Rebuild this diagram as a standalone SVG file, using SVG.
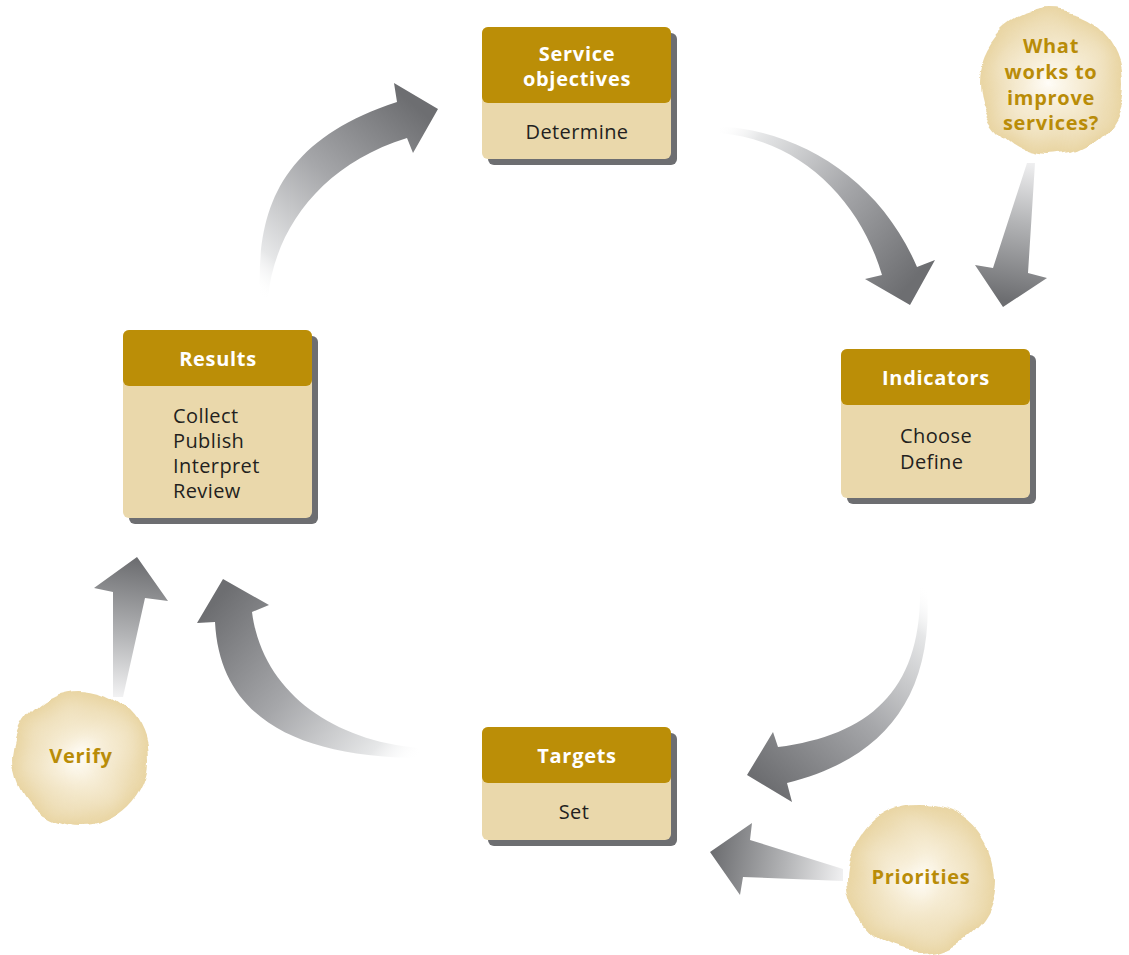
<svg xmlns="http://www.w3.org/2000/svg" width="1129" height="955" viewBox="0 0 1129 955">
<defs>
<style>
.shadow{fill:#6d6e71}
.body{fill:#ead8ab}
.head{fill:#bb8e07}
.ht{font-family:"Open Sans","Liberation Sans",sans-serif;font-weight:700;font-size:20px;fill:#ffffff;letter-spacing:0.7px;text-anchor:middle}
.bt{font-family:"Open Sans","Liberation Sans",sans-serif;font-size:20px;fill:#231f20;letter-spacing:0.4px}
.btc{text-anchor:middle}
.blt{font-family:"Open Sans","Liberation Sans",sans-serif;font-weight:700;font-size:20px;fill:#b98c08;letter-spacing:0.7px;text-anchor:middle}
.blob{fill:url(#blobGrad);filter:url(#rough)}
</style>
<radialGradient id="blobGrad" cx="0.5" cy="0.5" r="0.5">
<stop offset="0" stop-color="#fffdf8"/>
<stop offset="0.35" stop-color="#f7eed8"/>
<stop offset="0.75" stop-color="#efe0bb"/>
<stop offset="1" stop-color="#e9d5a3"/>
</radialGradient>
<filter id="rough" x="-15%" y="-15%" width="130%" height="130%">
<feTurbulence type="fractalNoise" baseFrequency="0.028" numOctaves="1" seed="7"/>
<feDisplacementMap in="SourceGraphic" scale="18" xChannelSelector="R" yChannelSelector="G"/>
</filter>
<linearGradient id="ag">
<stop offset="0" stop-color="#ffffff" stop-opacity="0"/>
<stop offset="0.15" stop-color="#e6e7e8"/>
<stop offset="0.55" stop-color="#a6a7aa"/>
<stop offset="1" stop-color="#6d6e71"/>
</linearGradient>
<linearGradient id="sg">
<stop offset="0" stop-color="#f2f2f3"/>
<stop offset="0.45" stop-color="#b3b4b6"/>
<stop offset="1" stop-color="#6d6e71"/>
</linearGradient>
<linearGradient id="g1" href="#ag" gradientUnits="userSpaceOnUse" x1="262" y1="297" x2="420" y2="110"/>
<linearGradient id="g2" href="#ag" gradientUnits="userSpaceOnUse" x1="717" y1="128" x2="905" y2="290"/>
<linearGradient id="g3" href="#ag" gradientUnits="userSpaceOnUse" x1="925" y1="587" x2="760" y2="780"/>
<linearGradient id="g4" href="#ag" gradientUnits="userSpaceOnUse" x1="420" y1="755" x2="225" y2="590"/>
<linearGradient id="g5" href="#sg" gradientUnits="userSpaceOnUse" x1="1031" y1="160" x2="1008" y2="300"/>
<linearGradient id="g6" href="#sg" gradientUnits="userSpaceOnUse" x1="118" y1="697" x2="135" y2="560"/>
<linearGradient id="g7" href="#sg" gradientUnits="userSpaceOnUse" x1="845" y1="875" x2="712" y2="855"/>
</defs>
<rect width="1129" height="955" fill="#ffffff"/>

<g id="connectors">
<path fill="url(#g1)" d="M260,297 C256,210 280,140 397,102 L394,83 L438,109 L413,153 L407,138 C320,165 275,230 268,297 Z"/>
<path fill="url(#g2)" d="M717,126 C800,130 880,180 917,267 L935,260 L910,305 L865,279 L882,275 C860,200 800,140 720,133 Z"/>
<path fill="url(#g3)" d="M927,587 C935,700 880,760 787,783 L792,802 L747,775 L773,732 L778,747 C870,735 922,690 920,587 Z"/>
<path fill="url(#g4)" d="M420,758 C300,757 220,720 215,622 L197,623 L223,579 L269,605 L252,612 C262,690 330,740 418,748 Z"/>
<polygon fill="url(#g5)" points="1027,163 1035,163 1028,273 1047,278 1003,307 975,265 993,268"/>
<polygon fill="url(#g6)" points="113,697 123,697 145,598 168,601 137,557 94,588 113,592"/>
<polygon fill="url(#g7)" points="843,869 843,881 743,877 740,895 710,852 752,823 750,840"/>
</g>

<g id="service-objectives">
<rect class="shadow" x="488" y="33" width="189" height="132" rx="6"/>
<rect class="body" x="482" y="27" width="189" height="132" rx="6"/>
<rect class="head" x="482" y="27" width="189" height="76" rx="6"/>
<text class="ht" x="577" y="61">Service</text>
<text class="ht" x="577" y="86">objectives</text>
<text class="bt btc" x="577" y="139">Determine</text>
</g>

<g id="indicators">
<rect class="shadow" x="847" y="355" width="189" height="149" rx="6"/>
<rect class="body" x="841" y="349" width="189" height="149" rx="6"/>
<rect class="head" x="841" y="349" width="189" height="56" rx="6"/>
<text class="ht" x="936" y="385">Indicators</text>
<text class="bt" x="900" y="443">Choose</text>
<text class="bt" x="900" y="469">Define</text>
</g>

<g id="targets">
<rect class="shadow" x="488" y="733" width="189" height="113" rx="6"/>
<rect class="body" x="482" y="727" width="189" height="113" rx="6"/>
<rect class="head" x="482" y="727" width="189" height="56" rx="6"/>
<text class="ht" x="577" y="763">Targets</text>
<text class="bt btc" x="574" y="819">Set</text>
</g>

<g id="results">
<rect class="shadow" x="129" y="336" width="189" height="188" rx="6"/>
<rect class="body" x="123" y="330" width="189" height="188" rx="6"/>
<rect class="head" x="123" y="330" width="189" height="56" rx="6"/>
<text class="ht" x="218" y="366">Results</text>
<text class="bt" x="173" y="423">Collect</text>
<text class="bt" x="173" y="448">Publish</text>
<text class="bt" x="173" y="473">Interpret</text>
<text class="bt" x="173" y="498">Review</text>
</g>

<g id="what-works">
<circle class="blob" cx="1051" cy="83" r="73"/>
<text class="blt" x="1051" y="53">What</text>
<text class="blt" x="1051" y="79">works to</text>
<text class="blt" x="1051" y="105">improve</text>
<text class="blt" x="1051" y="130">services?</text>
</g>

<g id="verify">
<circle class="blob" cx="81" cy="758" r="68"/>
<text class="blt" x="81" y="763">Verify</text>
</g>

<g id="priorities">
<circle class="blob" cx="921" cy="878" r="74"/>
<text class="blt" x="921" y="884">Priorities</text>
</g>
</svg>
